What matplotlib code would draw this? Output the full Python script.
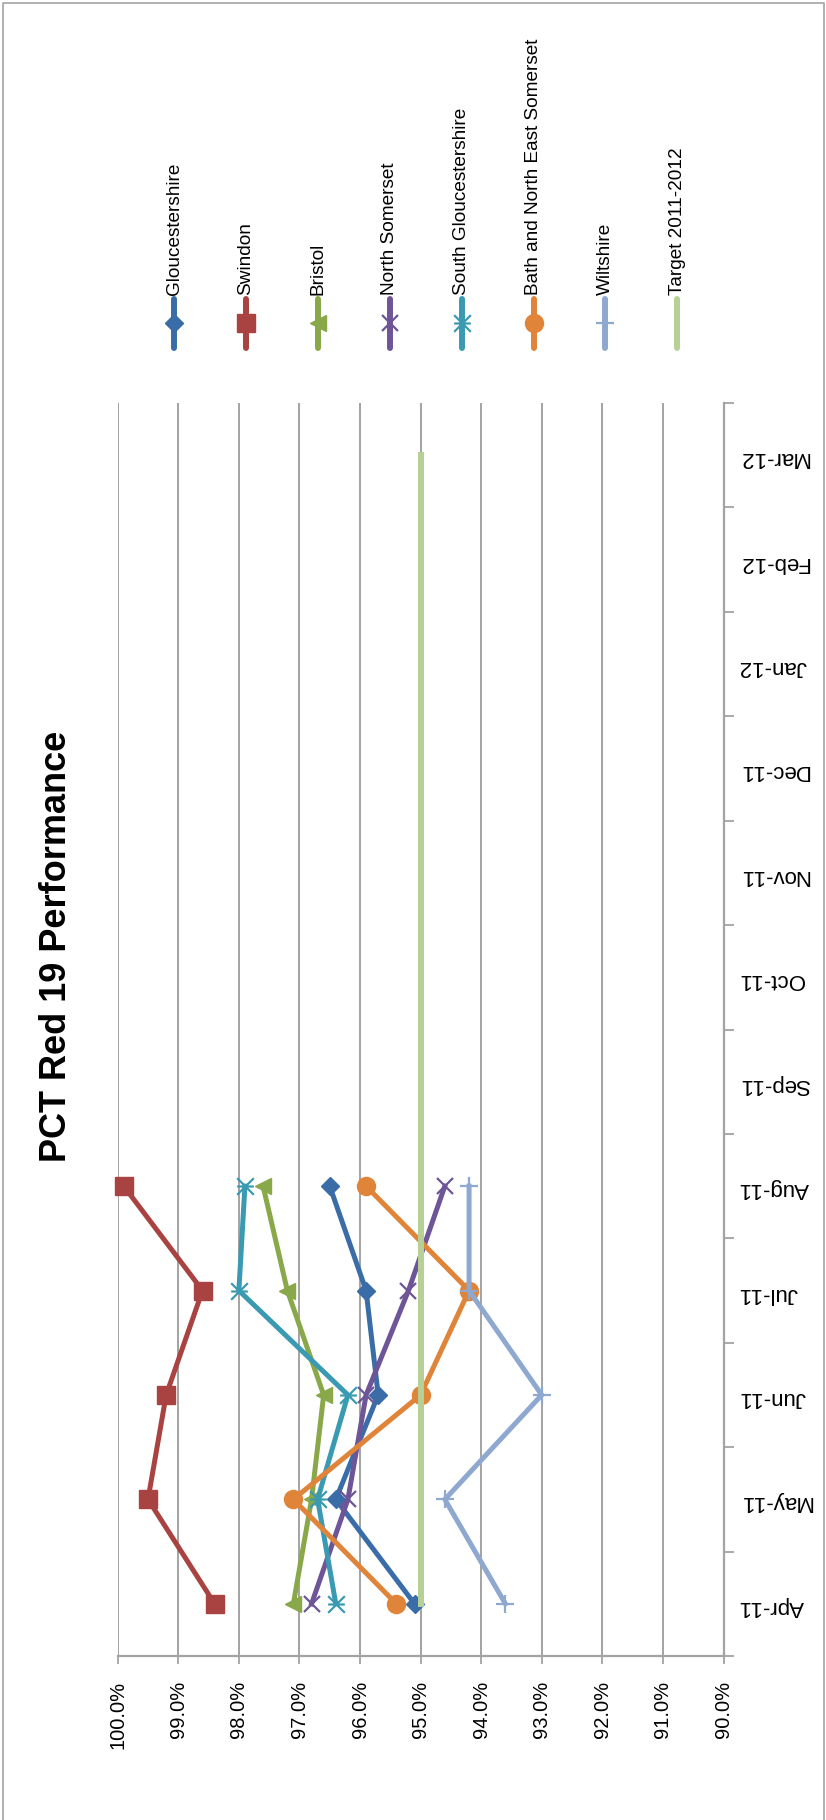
import numpy as np
import matplotlib
matplotlib.use('Agg')
import matplotlib.pyplot as plt
from matplotlib.path import Path
from matplotlib.lines import Line2D

plt.rcParams['font.family'] = ['Liberation Sans', 'DejaVu Sans']

# Monthly Red 19 performance (%) by PCT, Apr-11 to Aug-11 reported so far
months = ['Apr-11', 'May-11', 'Jun-11', 'Jul-11', 'Aug-11', 'Sep-11',
          'Oct-11', 'Nov-11', 'Dec-11', 'Jan-12', 'Feb-12', 'Mar-12']
gloucestershire = [95.1, 96.4, 95.7, 95.9, 96.5]
swindon = [98.4, 99.5, 99.2, 98.6, 99.9]
bristol = [97.1, 96.8, 96.6, 97.2, 97.6]
north_somerset = [96.8, 96.2, 95.9, 95.2, 94.6]
south_glos = [96.4, 96.7, 96.2, 98.0, 97.9]
banes = [95.4, 97.1, 95.0, 94.2, 95.9]
wiltshire = [93.6, 94.6, 93.0, 94.2, 94.2]
target = [95.0] * 12

pct_ticks = [100, 99, 98, 97, 96, 95, 94, 93, 92, 91, 90]
pct_labels = ['100.0%', '99.0%', '98.0%', '97.0%', '96.0%', '95.0%',
              '94.0%', '93.0%', '92.0%', '91.0%', '90.0%']

# x with a bar through it
star = Path([(-1, -1), (1, 1), (-1, 1), (1, -1), (-1, 0), (1, 0)],
            [Path.MOVETO, Path.LINETO, Path.MOVETO, Path.LINETO,
             Path.MOVETO, Path.LINETO])

series = [
    ('Gloucestershire', gloucestershire, '#3A6DA8', 'D', 9.5, 1),
    ('Swindon', swindon, '#A94341', 's', 13, 1),
    ('Bristol', bristol, '#88A84A', '<', 12, 1),
    ('North Somerset', north_somerset, '#6E5597', 'x', 12, 1.6),
    ('South Gloucestershire', south_glos, '#3A9AB2', star, 12, 1.6),
    ('Bath and North East Somerset', banes, '#E0843A', 'o', 13, 1),
    ('Wiltshire', wiltshire, '#8EA8D0', '+', 13, 1.6),
    ('Target 2011-2012', target, '#B6D095', None, 0, 1),
]

grey = '#A3A3A3'
W, H = 826, 1820
fig = plt.figure(figsize=(W / 100, H / 100), dpi=100)
ax = fig.add_axes([117.7 / W, 1 - 1656 / H, (723.5 - 117.7) / W, (1656 - 403) / H])

for name, vals, col, mk, ms, mew in series:
    y = np.arange(len(vals))
    lw = 4.3 if mk is None else 3.6
    ax.plot(vals, y, color=col, lw=lw, marker=mk, markersize=ms,
            markeredgewidth=mew, markeredgecolor=col, markerfacecolor=col,
            clip_on=False, zorder=3)

ax.set_xlim(100, 90)
ax.set_ylim(-0.5, len(months) - 0.5)
ax.set_xticks(pct_ticks)
ax.set_xticklabels(pct_labels)
ax.grid(axis='x', color=grey, lw=1.4)
ax.set_axisbelow(True)

ax.yaxis.tick_right()
ax.set_yticks(np.arange(-0.5, len(months), 1))
ax.set_yticklabels([])
ax.set_yticks(np.arange(len(months)), labels=months, minor=True)
ax.tick_params(axis='y', which='major', length=7, width=1.3, color=grey)
ax.tick_params(axis='y', which='minor', length=0, pad=11, labelsize=16,
               labelrotation=180)
ax.tick_params(axis='x', length=6, width=1.3, color=grey, pad=12,
               labelsize=14.5, labelrotation=90)

for side in ['top', 'left']:
    ax.spines[side].set_visible(False)
for side in ['bottom', 'right']:
    ax.spines[side].set_color(grey)
    ax.spines[side].set_linewidth(1.6)

fig.text(57 / W, 1 - 946 / H, 'PCT Red 19 Performance', rotation=90,
         fontsize=26, fontweight='bold', ha='center', va='center')

# legend across the top, one vertical entry per series
leg_x = [174, 246, 318, 390, 462, 534, 605, 677]
for (name, vals, col, mk, ms, mew), lx in zip(series, leg_x):
    fx = lx / W
    fig.add_artist(Line2D([fx, fx], [1 - 348 / H, 1 - 299 / H], color=col,
                          lw=4.3, solid_capstyle='round',
                          transform=fig.transFigure))
    if mk is not None:
        fig.add_artist(Line2D([fx], [1 - 323 / H], marker=mk, markersize=ms,
                              markeredgewidth=mew, color=col,
                              markerfacecolor=col, markeredgecolor=col,
                              transform=fig.transFigure))
    fig.text(fx, 1 - 295 / H, name, rotation=90, fontsize=13.7,
             ha='center', va='bottom')

# chart border
fig.add_artist(Line2D([3 / W, 3 / W, 824 / W, 824 / W],
                      [0, 1 - 3 / H, 1 - 3 / H, 0], color=grey, lw=1.2,
                      transform=fig.transFigure))

fig.savefig('out.png', dpi=100)
